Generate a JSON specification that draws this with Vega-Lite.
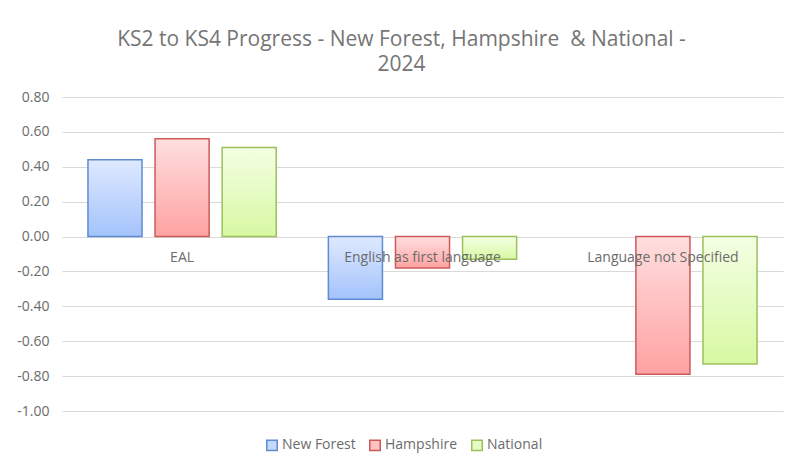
{
  "$schema": "https://vega.github.io/schema/vega-lite/v6.json",
  "autosize": "none",
  "width": 721,
  "height": 314,
  "padding": {"left": 62, "top": 97, "right": 19, "bottom": 59},
  "background": "white",
  "title": {
    "text": ["KS2 to KS4 Progress - New Forest, Hampshire \u00a0& National -", "2024"],
    "font": "Open Sans",
    "fontSize": 21,
    "fontWeight": "normal",
    "color": "#757575",
    "anchor": "middle",
    "dx": -21,
    "offset": 15,
    "lineHeight": 25
  },
  "datasets": {
    "bars": [
      {"category": "EAL", "series": "New Forest", "value": 0.44},
      {"category": "EAL", "series": "Hampshire", "value": 0.56},
      {"category": "EAL", "series": "National", "value": 0.51},
      {"category": "English as first language", "series": "New Forest", "value": -0.36},
      {"category": "English as first language", "series": "Hampshire", "value": -0.18},
      {"category": "English as first language", "series": "National", "value": -0.13},
      {"category": "Language not Specified", "series": "New Forest", "value": null},
      {"category": "Language not Specified", "series": "Hampshire", "value": -0.79},
      {"category": "Language not Specified", "series": "National", "value": -0.73}
    ],
    "cats": [
      {"category": "EAL"},
      {"category": "English as first language"},
      {"category": "Language not Specified"}
    ]
  },
  "data": {"name": "bars"},
  "layer": [
    {
      "transform": [{"filter": "datum.series === 'New Forest'"}],
      "mark": {
        "type": "bar",
        "strokeWidth": 1.5,
        "color": {"gradient": "linear", "x1": 0, "y1": 0, "x2": 0, "y2": 1, "stops": [{"offset": 0, "color": "#dfe9ff"}, {"offset": 1, "color": "#a3c3fb"}]}
      },
      "encoding": {
        "x": {
          "field": "category",
          "type": "nominal",
          "sort": null,
          "scale": {"domain": ["EAL", "English as first language", "Language not Specified"], "paddingInner": 0.217, "paddingOuter": 0.108},
          "axis": null
        },
        "xOffset": {
          "field": "series",
          "type": "nominal",
          "scale": {"domain": ["New Forest", "Hampshire", "National"], "paddingInner": 0.194, "paddingOuter": 0}
        },
        "y": {
          "field": "value",
          "type": "quantitative",
          "scale": {"domain": [-1, 0.8], "nice": false, "zero": false},
          "axis": {
            "values": [-1, -0.8, -0.6, -0.4, -0.2, 0, 0.2, 0.4, 0.6, 0.8],
            "tickCount": 10,
            "format": ".2f",
            "labelExpr": "replace(datum.label, '\u2212', '-')",
            "labelOverlap": false,
            "title": null,
            "domain": false,
            "ticks": false,
            "labelPadding": 13,
            "labelFont": "Open Sans",
            "labelFontSize": 14,
            "labelColor": "#6b6b6b",
            "gridColor": "#d9d9d9",
            "gridWidth": 1
          }
        },
        "stroke": {
          "field": "series",
          "type": "nominal",
          "scale": {
            "domain": ["New Forest", "Hampshire", "National"],
            "range": ["#5d8cd0", "#cc5a5a", "#9dbf5c"]
          },
          "legend": {
            "title": null,
            "orient": "none",
            "direction": "horizontal",
            "legendX": 203,
            "legendY": 341,
            "symbolType": "square",
            "symbolSize": 110,
            "symbolStrokeWidth": 1.5,
            "labelFont": "Open Sans",
            "labelFontSize": 14,
            "labelColor": "#6b6b6b",
            "columnPadding": 10,
            "labelOffset": 3
          }
        }
      }
    },
    {
      "transform": [{"filter": "datum.series === 'Hampshire'"}],
      "mark": {
        "type": "bar",
        "strokeWidth": 1.5,
        "color": {"gradient": "linear", "x1": 0, "y1": 0, "x2": 0, "y2": 1, "stops": [{"offset": 0, "color": "#ffdfdf"}, {"offset": 1, "color": "#ffa2a2"}]}
      },
      "encoding": {
        "x": {"field": "category", "type": "nominal", "sort": null},
        "xOffset": {"field": "series", "type": "nominal"},
        "y": {"field": "value", "type": "quantitative"},
        "stroke": {"field": "series", "type": "nominal"}
      }
    },
    {
      "transform": [{"filter": "datum.series === 'National'"}],
      "mark": {
        "type": "bar",
        "strokeWidth": 1.5,
        "color": {"gradient": "linear", "x1": 0, "y1": 0, "x2": 0, "y2": 1, "stops": [{"offset": 0, "color": "#f3ffe3"}, {"offset": 1, "color": "#d8f8a3"}]}
      },
      "encoding": {
        "x": {"field": "category", "type": "nominal", "sort": null},
        "xOffset": {"field": "series", "type": "nominal"},
        "y": {"field": "value", "type": "quantitative"},
        "stroke": {"field": "series", "type": "nominal"}
      }
    },
    {
      "transform": [{"filter": "datum.value === null"}],
      "mark": {"type": "square", "filled": true, "strokeWidth": 1.5},
      "encoding": {
        "x": {"field": "category", "type": "nominal", "sort": null},
        "y": {"field": "value", "type": "quantitative"},
        "stroke": {"field": "series", "type": "nominal"},
        "fill": {
          "field": "series",
          "type": "nominal",
          "scale": {
            "domain": ["New Forest", "Hampshire", "National"],
            "range": ["#c4d7fd", "#ffc2c2", "#e7fbc5"]
          }
        }
      }
    },
    {
      "data": {"name": "cats"},
      "mark": {"type": "text", "font": "Open Sans", "fontSize": 14, "color": "#6b6b6b", "dy": 21, "baseline": "middle"},
      "encoding": {
        "x": {"field": "category", "type": "nominal", "sort": null},
        "y": {"datum": 0, "type": "quantitative"},
        "text": {"field": "category", "type": "nominal"}
      }
    }
  ],
  "config": {
    "view": {"stroke": null}
  }
}
